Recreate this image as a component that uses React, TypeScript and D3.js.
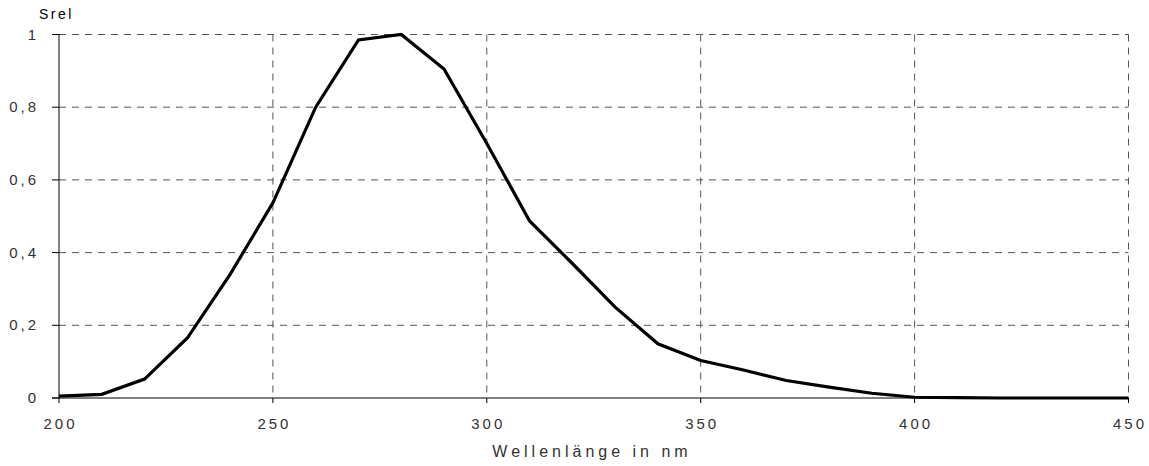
import React from "react";
import * as d3 from "d3";

const wavelengths = [200, 210, 220, 230, 240, 250, 260, 270, 280, 290, 300, 310, 320, 330, 340, 350, 360, 370, 380, 390, 400, 410, 420, 430, 440, 450];
const srel = [0.005, 0.01, 0.052, 0.165, 0.34, 0.537, 0.8, 0.985, 1.0, 0.905, 0.7, 0.487, 0.37, 0.25, 0.149, 0.103, 0.077, 0.048, 0.03, 0.013, 0.002, 0.001, 0, 0, 0, 0];
const xTicks = [200, 250, 300, 350, 400, 450];
const yTicks = [0, 0.2, 0.4, 0.6, 0.8, 1];
const yTickLabels = ["0", "0,2", "0,4", "0,6", "0,8", "1"];
const xTitle = "Wellenlänge in nm";
const yTitle = "Srel";

export default function App() {
  const W = 1149, H = 466;
  const x = d3.scaleLinear().domain([200, 450]).range([59, 1128.5]);
  const y = d3.scaleLinear().domain([0, 1]).range([398, 34.5]);
  const pts = wavelengths.map((w, i) => [w, srel[i]] as [number, number]);
  const line = d3.line<[number, number]>().x(d => x(d[0])).y(d => y(d[1]));
  const font = "'Liberation Sans', Arial, sans-serif";
  const textColor = "#333";
  return (
    <svg width={W} height={H} style={{ position: "absolute", left: 0, top: 0, background: "#fff" }}>
      {yTicks.filter(t => t > 0).map(t => (
        <line key={"hg" + t} x1={x(200)} x2={x(450)} y1={y(t)} y2={y(t)} stroke="#555" strokeWidth={1} strokeDasharray="7,6" />
      ))}
      {xTicks.filter(t => t > 200).map(t => (
        <line key={"vg" + t} x1={x(t)} x2={x(t)} y1={y(1)} y2={y(0)} stroke="#555" strokeWidth={1} strokeDasharray="7,6" />
      ))}
      <line x1={x(200)} x2={x(200)} y1={y(1)} y2={y(0)} stroke="#000" strokeWidth={1} />
      <line x1={x(200) - 7} x2={x(450)} y1={y(0)} y2={y(0)} stroke="#000" strokeWidth={1} />
      {yTicks.map(t => (
        <line key={"yt" + t} x1={x(200) - 7} x2={x(200)} y1={y(t)} y2={y(t)} stroke="#000" strokeWidth={1} />
      ))}
      {xTicks.map(t => (
        <line key={"xt" + t} x1={x(t)} x2={x(t)} y1={y(0)} y2={y(0) + 5} stroke="#000" strokeWidth={1} />
      ))}
      {yTicks.map((t, i) => (
        <text key={"yl" + t} x={39} y={y(t) + 5} textAnchor="end" fontFamily={font} fontSize={15} letterSpacing={3} fill={textColor}>
          {yTickLabels[i]}
        </text>
      ))}
      {xTicks.map(t => (
        <text key={"xl" + t} x={x(t) + 1.5} y={429} textAnchor="middle" fontFamily={font} fontSize={15} letterSpacing={3} fill={textColor}>
          {t}
        </text>
      ))}
      <text x={39} y={19} fontFamily={font} fontSize={14} letterSpacing={2.5} fill="#000">{yTitle}</text>
      <text x={592} y={457} textAnchor="middle" fontFamily={font} fontSize={16} letterSpacing={4} fill={textColor}>{xTitle}</text>
      <path d={line(pts) || ""} fill="none" stroke="#000" strokeWidth={3.2} strokeLinejoin="miter" />
    </svg>
  );
}
